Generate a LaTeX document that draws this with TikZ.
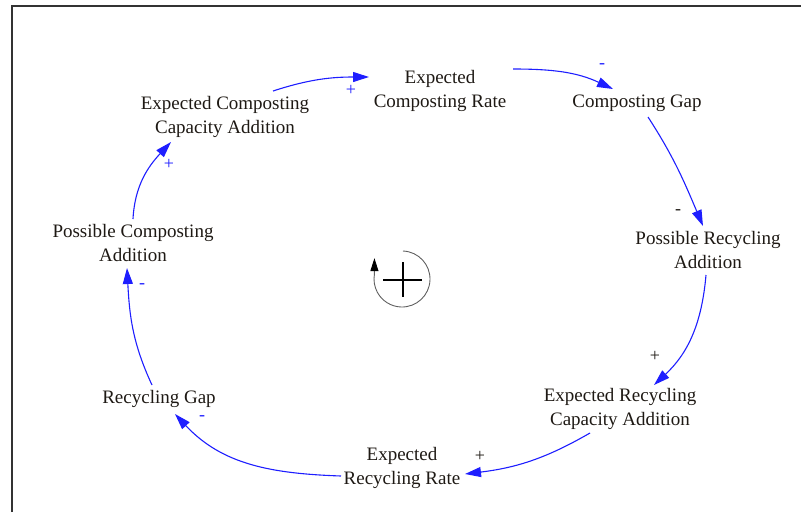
\documentclass[tikz,border=0pt]{standalone}
\usepackage{fontspec}
\setmainfont{Liberation Serif}
\usetikzlibrary{arrows.meta,calc}
\definecolor{linkblue}{RGB}{30,30,255}
\definecolor{textdark}{RGB}{30,25,20}
\begin{document}
\begin{tikzpicture}[x=1pt,y=1pt,
  var/.style={align=center,inner sep=0pt,text=textdark,font=\fontsize{19}{24}\selectfont},
  link/.style={draw=linkblue,line width=1.1pt,-{Triangle[length=16pt,width=10pt,color=linkblue]}},
  sgn/.style={inner sep=0pt,font=\fontsize{18}{18}\selectfont},
]
\useasboundingbox (0,0) rectangle (801,-512);
\draw[line width=1.8pt,black!80] (12,-512) -- (12,-6) -- (801,-6);

\node[var] (ecca) at (225,-117) {Expected Composting\\Capacity Addition};
\node[var] (ecr)  at (440,-91)  {Expected\\Composting Rate};
\node[var] (cg)   at (637,-103) {Composting Gap};
\node[var] (pra)  at (708,-250) {Possible Recycling\\Addition};
\node[var] (erca) at (620,-409) {Expected Recycling\\Capacity Addition};
\node[var] (err)  at (402,-468) {Expected\\Recycling Rate};
\node[var] (rg)   at (159,-399) {Recycling Gap};
\node[var] (pca)  at (133,-243) {Possible Composting\\Addition};

\draw[link] ($(ecca)+(48,26)$)  to[out=18,in=180]  ($(ecr)+(-71,14)$);
\draw[link] ($(ecr)+(73,22)$)   to[out=0,in=155]   ($(cg)+(-24,14)$);
\draw[link] ($(cg)+(11,-14)$)   to[out=-57,in=113] ($(pra)+(-5,24)$);
\draw[link] ($(pra)+(-2,-25)$)  to[out=-95,in=43]  ($(erca)+(34,24)$);
\draw[link] ($(erca)+(-30,-24)$) to[out=210,in=7]  ($(err)+(63,-6)$);
\draw[link] ($(err)+(-61,-8)$) to[out=178,in=-47] ($(rg)+(16,-15)$);
\draw[link] ($(rg)+(-7,14)$)    to[out=115,in=-87] ($(pca)+(-6,-25)$);
\draw[link] ($(pca)+(0,24)$)    to[out=87,in=-133] ($(ecca)+(-54,-25)$);

\node[sgn,text=linkblue] (s1) at (351,-90)  {+};
\node[sgn,text=linkblue] (s2) at (602,-66)  {-};
\node[sgn,text=textdark] (s3) at (678,-212) {-};
\node[sgn,text=textdark] (s4) at (655,-356) {+};
\node[sgn,text=textdark] (s5) at (480,-456) {+};
\node[sgn,text=linkblue] (s6) at (202,-418) {-};
\node[sgn,text=linkblue] (s7) at (142,-286) {-};
\node[sgn,text=linkblue] (s8) at (169,-164) {+};

\draw[gray!75!black,line width=0.9pt,-{Triangle[length=13pt,width=8pt,color=black]}]
  (402,-279) ++(88:28) arc[start angle=88,end angle=-190,radius=28] -- ++(0,16);
\draw[line width=1.6pt,black] (383,-280) -- (422,-280) (403,-262) -- (403,-297);
\end{tikzpicture}
\end{document}
